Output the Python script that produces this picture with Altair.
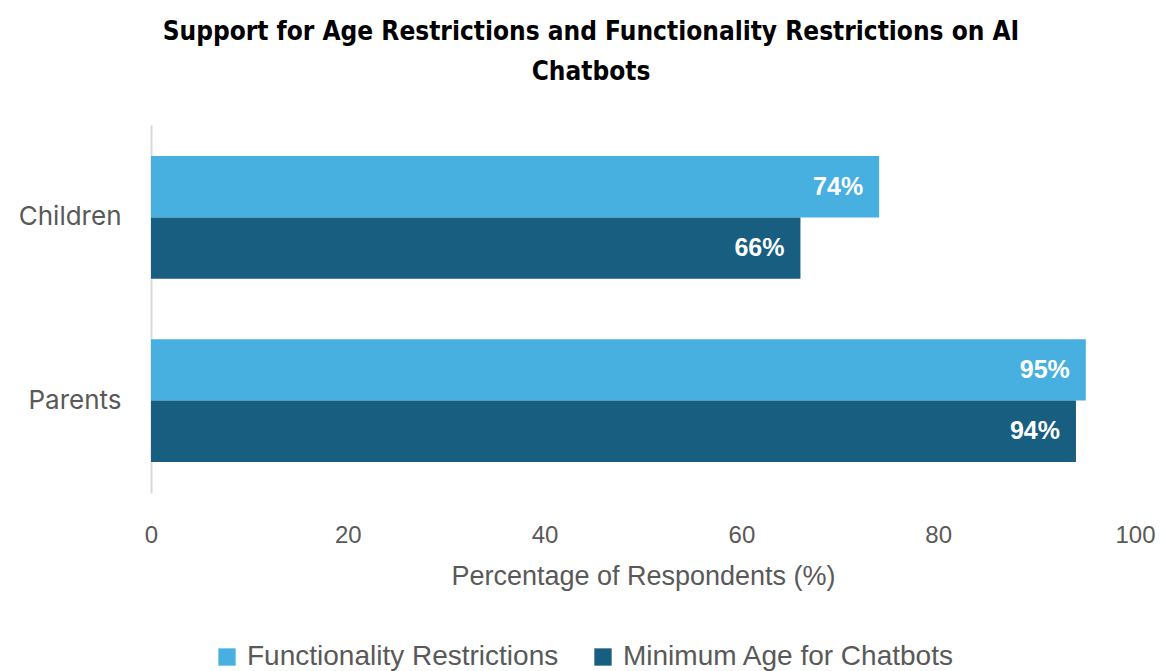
import altair as alt
import pandas as pd

groups = ["Children", "Parents"]
series = ["Functionality Restrictions", "Minimum Age for Chatbots"]
functionality = [74, 95]
min_age = [66, 94]
colors = ["#47B0E0", "#175E80"]

rows = []
for i, g in enumerate(groups):
    rows.append({"group": g, "series": series[0], "value": functionality[i]})
    rows.append({"group": g, "series": series[1], "value": min_age[i]})
df = pd.DataFrame(rows)
df["label"] = df["value"].astype(str) + "%"

base = alt.Chart(df).encode(
    y=alt.Y("group:N", sort=groups, title=None,
            scale=alt.Scale(paddingInner=0.33, paddingOuter=0.17),
            axis=alt.Axis(labelFontSize=26, labelColor="#595959", labelPadding=30,
                          ticks=False, domain=True, domainColor="#D9D9D9", domainWidth=2,
                          labelFont="Inter")),
    yOffset=alt.YOffset("series:N", sort=series),
)

bars = base.mark_bar().encode(
    x=alt.X("value:Q", scale=alt.Scale(domain=[0, 100]),
            title="Percentage of Respondents (%)",
            axis=alt.Axis(values=[0, 20, 40, 60, 80, 100], grid=False, ticks=False, domain=False,
                          labelFlush=False,
                          labelFontSize=24, labelColor="#595959", labelPadding=30,
                          titleFontSize=27, titleColor="#595959", titleFontWeight="normal",
                          titlePadding=16, labelFont="Liberation Sans", titleFont="Liberation Sans")),
    color=alt.Color("series:N", sort=series,
                    scale=alt.Scale(domain=series, range=colors),
                    legend=alt.Legend(title=None, orient="none", legendX=62, legendY=518,
                                      direction="horizontal", symbolType="square",
                                      symbolSize=300, symbolStrokeWidth=0,
                                      labelFontSize=28, labelColor="#595959", labelLimit=0,
                                      labelFont="Liberation Sans", columnPadding=30,
                                      labelOffset=6)),
)

labels = base.mark_text(align="right", baseline="middle", dx=-16, color="white",
                        fontSize=25, fontWeight="bold", font="Liberation Sans").encode(
    x="value:Q",
    text="label:N",
)

chart = (bars + labels).properties(
    width=984,
    height=368,
    autosize=alt.AutoSizeParams(type="none"),
    padding={"left": 151, "top": 125, "right": 26, "bottom": 178},
    title=alt.TitleParams(
        text=["Support for Age Restrictions and Functionality Restrictions on AI", "Chatbots"],
        fontSize=26, fontWeight="bold", font="DejaVu Sans Condensed", color="#000000",
        anchor="middle", dx=-52, offset=40, lineHeight=40,
    ),
).configure(background="white").configure_view(strokeWidth=0, stroke="transparent")

chart.save("out.html", embed_options={"renderer": "svg", "actions": False})
